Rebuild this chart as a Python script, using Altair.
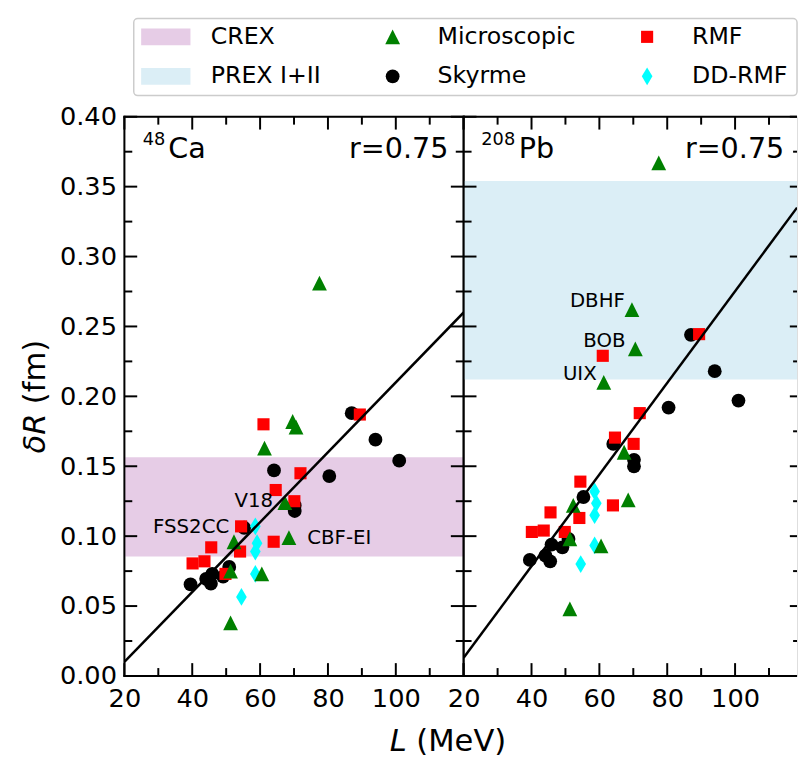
import altair as alt
import pandas as pd

FONT = "DejaVu Sans"

# ---------------- data ----------------
micro_L  = [69.6, 70.6, 61.3, 67.3, 52.3, 68.5, 51.3, 60.5, 51.3, 77.5]
micro_ca = [0.182, 0.178, 0.163, 0.124, 0.096, 0.099, 0.075, 0.073, 0.038, 0.281]
micro_pb = [0.262, 0.234, 0.210, 0.160, 0.122, 0.126, 0.098, 0.093, 0.048, 0.367]

sky_L  = [87.0, 94.0, 101.0, 64.1, 80.4, 70.2, 70.2, 55.3, 39.5, 44.1, 45.5, 45.9, 49.1, 50.9]
sky_ca = [0.188, 0.169, 0.154, 0.147, 0.143, 0.118, 0.122, 0.106, 0.0655, 0.0695, 0.066, 0.073, 0.071, 0.078]
sky_pb = [0.244, 0.218, 0.197, 0.166, 0.192, 0.150, 0.1546, 0.128, 0.083, 0.086, 0.082, 0.094, 0.092, 0.098]

rmf_L  = [61.0, 89.4, 71.9, 64.6, 70.1, 54.4, 64.0, 45.6, 54.1, 40.1, 43.6, 49.8]
rmf_ca = [0.180, 0.187, 0.145, 0.133, 0.125, 0.107, 0.096, 0.092, 0.089, 0.0805, 0.082, 0.073]
rmf_pb = [0.229, 0.2445, 0.188, 0.1705, 0.166, 0.139, 0.122, 0.117, 0.113, 0.103, 0.104, 0.103]

dd_L  = [58.6, 59.1, 58.6, 58.6, 54.5]
dd_ca = [0.107, 0.095, 0.089, 0.073, 0.0565]
dd_pb = [0.132, 0.1235, 0.115, 0.0934, 0.080]

crex_band = [0.0855, 0.1565]
prex_band = [0.212, 0.354]

# fitted lines (read at the panel edges)
fit_ca_L = [20, 120]
fit_ca   = [0.010, 0.260]
fit_pb_L = [20, 118.26]
fit_pb   = [0.013, 0.335]

ca_notes_text = ["V18", "FSS2CC"]
ca_notes_L    = [63.8, 50.9]
ca_notes_dR   = [0.125, 0.1065]
ca_notes2_text = ["CBF-EI"]
ca_notes2_L    = [73.9]
ca_notes2_dR   = [0.0987]
pb_notes_text = ["DBHF", "BOB", "UIX"]
pb_notes_L    = [67.5, 67.7, 59.2]
pb_notes_dR   = [0.268, 0.2394, 0.216]

x_tick_labels = [20, 40, 60, 80, 100]
y_tick_labels = [0.0, 0.05, 0.10, 0.15, 0.20, 0.25, 0.30, 0.35, 0.40]
x_ticks = list(range(20, 121, 10))
y_ticks = [round(i * 0.025, 3) for i in range(17)]

groups = ["CREX", "Microscopic", "RMF", "PREX I+II", "Skyrme", "DD-RMF"]
group_colors = ["#e6cce6", "#008000", "#ff0000", "#dbeef6", "#000000", "#00ffff"]
SWATCH = "M-2.94,-1H2.94V1H-2.94Z"
TRI = "M0,-1L1,1L-1,1Z"
DIAM = "M0,-1L0.6,0L0,1L-0.6,0Z"
group_shapes = [SWATCH, TRI, "square", SWATCH, "circle", DIAM]
group_sizes = [289, 225, 151, 289, 196, 324]

H = 567
W_L = 344
W_R = 338
XMAX_R = 118.26
MAJOR_PX, MINOR_PX = 13, 8


def points_frame(ca):
    rows = []
    for name, Ls, ys in [("Skyrme", sky_L, sky_ca if ca else sky_pb),
                         ("RMF", rmf_L, rmf_ca if ca else rmf_pb),
                         ("DD-RMF", dd_L, dd_ca if ca else dd_pb),
                         ("Microscopic", micro_L, micro_ca if ca else micro_pb)]:
        for l, v in zip(Ls, ys):
            rows.append({"L": l, "dR": v, "group": name})
    return pd.DataFrame(rows)


legend = alt.Legend(
    orient="none", legendX=30, legendY=-93, columns=3, direction="horizontal",
    title=None, labelFontSize=24, labelFont=FONT, labelColor="black", labelLimit=400,
    symbolStrokeWidth=0, symbolOpacity=1, symbolOffset=0, labelOffset=33.5,
    columnPadding=60, rowPadding=16, padding=0,
)

cscale = alt.Scale(domain=groups, range=group_colors)
sscale = alt.Scale(domain=groups, range=group_shapes)
zscale = alt.Scale(type="ordinal", domain=groups, range=group_sizes)

one = pd.DataFrame({"one": [1]})


def panel(ca):
    width = W_L if ca else W_R
    xmax = 120 if ca else XMAX_R
    ux = width / (xmax - 20)   # px per MeV
    uy = H / 0.4               # px per fm
    xs = alt.Scale(domain=[20, xmax], nice=False, zero=False)
    ys = alt.Scale(domain=[0, 0.4], nice=False, zero=False)
    xaxis = alt.Axis(values=x_tick_labels, title=None, ticks=False, domain=False, grid=False,
                     labelFontSize=26, labelPadding=10, labelFlush=False, labelOverlap=False,
                     labelFont=FONT, labelColor="black")
    if ca:
        yaxis = alt.Axis(values=y_tick_labels, format=".2f", title=None, ticks=False, domain=False,
                         grid=False, labelFontSize=26, labelPadding=8, labelOverlap=False,
                         labelFont=FONT, labelColor="black")
    else:
        yaxis = None

    def X(f="L"):
        return alt.X(f"{f}:Q", scale=xs, axis=xaxis)

    def Y(f="dR"):
        return alt.Y(f"{f}:Q", scale=ys, axis=yaxis)

    def XD(v):
        return alt.XDatum(v, type="quantitative", scale=xs, axis=xaxis)

    def YD(v):
        return alt.YDatum(v, type="quantitative", scale=ys, axis=yaxis)

    layers = []
    if ca:
        # legend frame box (the legend entries are drawn over it)
        layers.append(
            alt.Chart(one).mark_rect(fill="white", stroke="#cccccc", strokeWidth=1.5, cornerRadius=4)
            .encode(x=alt.value(9.5), x2=alt.value(682), y=alt.value(-99.5), y2=alt.value(-21.5))
        )
    band = crex_band if ca else prex_band
    band_color = group_colors[0] if ca else group_colors[3]
    layers.append(
        alt.Chart(pd.DataFrame({"dR": [band[0]], "dR2": [band[1]]}))
        .mark_rect(color=band_color)
        .encode(x=XD(20), x2=alt.X2Datum(xmax), y=Y(), y2=alt.Y2("dR2:Q"))
    )
    layers.append(
        alt.Chart(points_frame(ca))
        .mark_point(filled=True, opacity=1, strokeWidth=0)
        .encode(x=X(), y=Y(),
                color=alt.Color("group:N", scale=cscale, legend=legend),
                shape=alt.Shape("group:N", scale=sscale, legend=legend),
                size=alt.Size("group:N", scale=zscale, legend=legend))
    )
    layers.append(
        alt.Chart(pd.DataFrame({"L": fit_ca_L if ca else fit_pb_L, "dR": fit_ca if ca else fit_pb}))
        .mark_line(color="black", strokeWidth=2.5, clip=True)
        .encode(x=X(), y=Y())
    )
    if ca:
        notes_r = pd.DataFrame({"L": ca_notes_L, "dR": ca_notes_dR, "text": ca_notes_text})
        notes_l = pd.DataFrame({"L": ca_notes2_L, "dR": ca_notes2_dR, "text": ca_notes2_text})
        layers.append(alt.Chart(notes_l).mark_text(align="left", baseline="middle", fontSize=20,
                                                   font=FONT, color="black")
                      .encode(x=X(), y=Y(), text="text:N"))
    else:
        notes_r = pd.DataFrame({"L": pb_notes_L, "dR": pb_notes_dR, "text": pb_notes_text})
    layers.append(alt.Chart(notes_r).mark_text(align="right", baseline="middle", fontSize=20,
                                               font=FONT, color="black")
                  .encode(x=X(), y=Y(), text="text:N"))

    # panel tags
    tag_num, tag_sym, tag_dx = ("48", "Ca", 26) if ca else ("208", "Pb", 38)
    tag_L = 25.4 if ca else 25.2
    tag_df = pd.DataFrame({"L": [tag_L], "dR": [0.3706]})
    layers.append(alt.Chart(tag_df).mark_text(text=tag_num, align="left", baseline="alphabetic",
                                              fontSize=18, dy=-13, font=FONT, color="black")
                  .encode(x=X(), y=Y()))
    layers.append(alt.Chart(tag_df).mark_text(text=tag_sym, align="left", baseline="alphabetic",
                                              fontSize=29, dx=tag_dx, font=FONT, color="black")
                  .encode(x=X(), y=Y()))
    r_df = pd.DataFrame({"L": [115.5 if ca else 114.5], "dR": [0.3706]})
    layers.append(alt.Chart(r_df).mark_text(text="r=0.75", align="right", baseline="alphabetic",
                                            fontSize=29, font=FONT, color="black")
                  .encode(x=X(), y=Y()))

    # inward ticks on all four sides (drawn as short rules)
    tick = dict(color="black", strokeWidth=2, strokeCap="butt")
    xt = pd.DataFrame({"L": [v for v in x_ticks if v <= xmax]})
    yt = pd.DataFrame({"dR": y_ticks})
    my, ny = MAJOR_PX / uy, MINOR_PX / uy
    for y0, sgn in [(0.0, 1), (0.4, -1)]:
        layers.append(
            alt.Chart(xt)
            .transform_calculate(t0=f"{y0}",
                                 t1=f"{y0} + {sgn} * (datum.L % 20 == 0 ? {my} : {ny})")
            .mark_rule(**tick)
            .encode(x=X(), y=Y("t0"), y2=alt.Y2("t1:Q"))
        )
    if ca:
        right_major, right_minor = MAJOR_PX, MINOR_PX
    else:
        right_major, right_minor = 7.3, 4   # right border lies just beyond the crop
    for x0, sgn, mpx, npx in [(20, 1, MAJOR_PX, MINOR_PX), (xmax, -1, right_major, right_minor)]:
        layers.append(
            alt.Chart(yt)
            .transform_calculate(t0=f"{x0}",
                                 t1=f"{x0} + {sgn} * (round(datum.dR * 40) % 2 == 0 ? {mpx / ux} : {npx / ux})")
            .mark_rule(**tick)
            .encode(y=Y(), x=X("t0"), x2=alt.X2("t1:Q"))
        )

    # frame
    cap = "square" if ca else "butt"
    fr = dict(color="black", strokeWidth=2)
    layers.append(alt.Chart(one).mark_rule(strokeCap="square", **fr).encode(x=XD(20), y=YD(0), y2=alt.Y2Datum(0.4)))
    layers.append(alt.Chart(one).mark_rule(strokeCap=cap, **fr).encode(y=YD(0), x=XD(20), x2=alt.X2Datum(xmax)))
    layers.append(alt.Chart(one).mark_rule(strokeCap=cap, **fr).encode(y=YD(0.4), x=XD(20), x2=alt.X2Datum(xmax)))
    if ca:
        layers.append(alt.Chart(one).mark_rule(strokeCap="square", **fr).encode(x=XD(120), y=YD(0), y2=alt.Y2Datum(0.4)))

    # axis titles (mixed italic / upright)
    if ca:
        ty = H / 2 + 58
        layers.append(alt.Chart(one).mark_text(text="δR", fontStyle="italic", fontSize=31, angle=270,
                                               align="left", baseline="alphabetic", font=FONT, color="black")
                      .encode(x=alt.value(-80), y=alt.value(ty)))
        layers.append(alt.Chart(one).mark_text(text="(fm)", fontSize=31, angle=270, dx=50,
                                               align="left", baseline="alphabetic", font=FONT, color="black")
                      .encode(x=alt.value(-80), y=alt.value(ty)))
        layers.append(alt.Chart(one).mark_text(text="L", fontStyle="italic", fontSize=31,
                                               align="left", baseline="alphabetic", font=FONT, color="black")
                      .encode(x=alt.value(269), y=alt.value(H + 76)))
        layers.append(alt.Chart(one).mark_text(text="(MeV)", fontSize=31, dx=27,
                                               align="left", baseline="alphabetic", font=FONT, color="black")
                      .encode(x=alt.value(269), y=alt.value(H + 76)))

    return alt.layer(*layers).properties(width=width, height=H)


chart = (
    alt.hconcat(panel(True), panel(False), spacing=0, bounds="flush")
    .properties(padding={"left": 12, "top": 4, "right": 0, "bottom": 0})
    .configure_view(stroke=None)
    .configure(font=FONT)
)

chart.save("out.html", embed_options={"renderer": "svg", "actions": False})
